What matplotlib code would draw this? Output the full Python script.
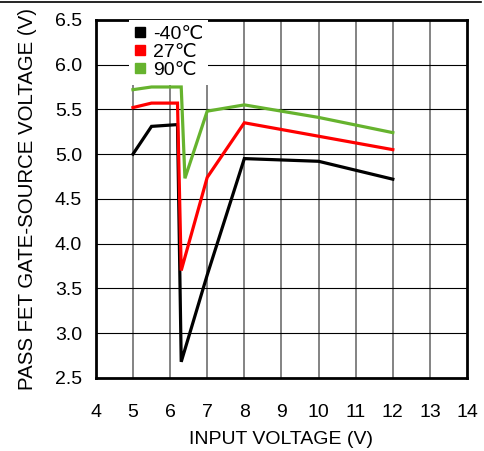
import matplotlib
matplotlib.use("Agg")
import matplotlib.pyplot as plt
from matplotlib.lines import Line2D

plt.rcParams['font.family'] = ['Liberation Sans', 'DejaVu Sans']

# data
x_m40 = [5.0, 5.5, 6.2, 6.3, 7.0, 8.0, 10.0, 12.0]
y_m40 = [5.00, 5.31, 5.33, 2.68, 3.65, 4.95, 4.92, 4.72]

x_27 = [5.0, 5.5, 6.2, 6.3, 7.0, 8.0, 10.0, 12.0]
y_27 = [5.52, 5.57, 5.57, 3.70, 4.74, 5.35, 5.20, 5.05]

x_90 = [5.0, 5.5, 6.3, 6.4, 7.0, 8.0, 10.0, 12.0]
y_90 = [5.72, 5.75, 5.75, 4.73, 5.48, 5.55, 5.41, 5.24]

labels = ['-40\u2103', '27\u2103', '90\u2103']
colors = ['black', '#ff0000', '#66b32e']

fs = 14

fig = plt.figure(figsize=(4.84, 4.51), dpi=100)
# thin rule at the top of the page
fig.add_artist(Line2D([0, 0.993], [0.996, 0.996], color='black', lw=1.2,
                      transform=fig.transFigure))
ax = fig.add_axes([0.198, 0.162, 0.767, 0.794])

for xs, ys, c in zip([x_m40, x_27, x_90], [y_m40, y_27, y_90], colors):
    ax.plot(xs, ys, color=c, lw=2.3, solid_joinstyle='miter', zorder=3)

ax.set_xlim(4, 14)
ax.set_ylim(2.5, 6.5)
ax.set_xticks(range(4, 15))
ax.set_yticks([2.5 + 0.5 * i for i in range(9)])
ax.set_yticklabels(['%.1f' % (2.5 + 0.5 * i) for i in range(9)])

# grid: grey verticals, black horizontals
for xv in range(5, 14):
    ax.axvline(xv, color='#7a7a7a', lw=1.3, zorder=1)
for yv in [3.0, 3.5, 4.0, 4.5, 5.0, 5.5, 6.0]:
    ax.axhline(yv, color='black', lw=0.8, zorder=1)

for sp in ax.spines.values():
    sp.set_linewidth(2)
ax.tick_params(length=0, labelsize=fs)
ax.tick_params(axis='y', pad=10)
ax.tick_params(axis='x', pad=19)

ax.set_xlabel('INPUT VOLTAGE (V)', fontsize=fs, labelpad=7)
ax.set_ylabel('PASS FET GATE-SOURCE VOLTAGE (V)', fontsize=14.7, labelpad=13)

handles = [Line2D([], [], ls='none', marker='s', ms=7, color=c) for c in colors]
leg = ax.legend(handles, labels, loc='upper left', bbox_to_anchor=(0.089, 1.0),
                frameon=True, fancybox=False, framealpha=1, edgecolor='none',
                facecolor='white', fontsize=fs, handlelength=0.6,
                handletextpad=0.35, labelspacing=0.03, borderpad=0.28,
                borderaxespad=0)
leg.set_zorder(5)

fig.savefig('out.png', dpi=100)
